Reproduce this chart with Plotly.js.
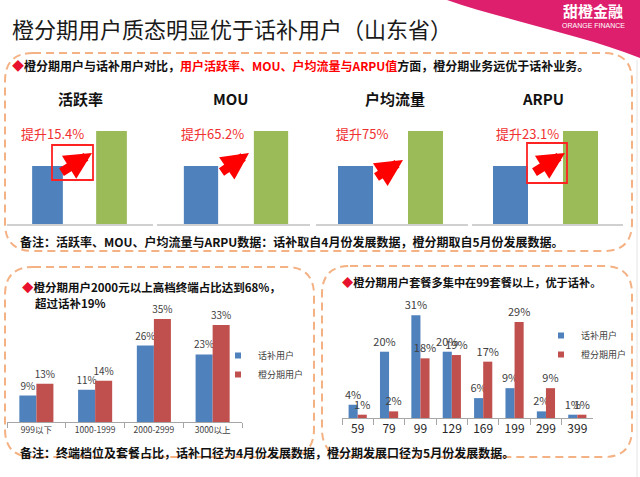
<!DOCTYPE html>
<html>
<head>
<meta charset="utf-8">
<script src="https://cdn.plot.ly/plotly-3.0.1.min.js"></script>
<style>html,body{margin:0;padding:0;background:#fff;}#chart{width:640px;height:477px;}</style>
</head>
<body>
<div id="chart"></div>
<script>
// ---------------- data ----------------
const topMetrics = ['活跃率', 'MOU', '户均流量', 'ARPU'];
const topLift = ['提升15.4%', '提升65.2%', '提升75%', '提升23.1%'];
const topCats = ['话补用户', '橙分期用户'];
const topHuabu = [58, 58, 58, 58];     // relative bar heights
const topCfq = [93, 93, 93, 93];

const priceCats = ['999以下', '1000-1999', '2000-2999', '3000以上'];
const priceHuabu = [9, 11, 26, 23];
const priceCfq = [13, 14, 35, 33];

const planCats = ['59', '79', '99', '129', '169', '199', '299', '399'];
const planHuabu = [4, 20, 31, 20, 6, 9, 2, 1];
const planCfq = [1, 2, 18, 19, 17, 29, 9, 1];

const seriesNames = ['话补用户', '橙分期用户'];

// ---------------- helpers ----------------
const W = 640, H = 477;
const px = x => x / W;
const py = y => 1 - y / H;
const BLUE = '#4F81BD', GREEN = '#9BBB59', RED = '#C0504D';
const FONT = '"Noto Sans CJK SC", "Noto Sans", sans-serif';

function roundRect(x0, y0, x1, y1, r) {
  const P = (x, y) => px(x).toFixed(5) + ',' + py(y).toFixed(5);
  return 'M' + P(x0 + r, y0) + ' L' + P(x1 - r, y0) + ' Q' + P(x1, y0) + ' ' + P(x1, y0 + r) +
    ' L' + P(x1, y1 - r) + ' Q' + P(x1, y1) + ' ' + P(x1 - r, y1) +
    ' L' + P(x0 + r, y1) + ' Q' + P(x0, y1) + ' ' + P(x0, y1 - r) +
    ' L' + P(x0, y0 + r) + ' Q' + P(x0, y0) + ' ' + P(x0 + r, y0) + ' Z';
}

// ---------------- traces ----------------
const traces = [];
const topLayout = [
  {line: [7, 153], c: 47.5, s: 64, w: 0.48},
  {line: [157, 310], c: 201, s: 70, w: 0.49},
  {line: [316, 468], c: 355.5, s: 70, w: 0.5},
  {line: [472, 623], c: 510.5, s: 70, w: 0.5}
];
topMetrics.forEach((m, i) => {
  const n = i + 1;
  traces.push({
    type: 'bar', x: [0, 1], y: [topHuabu[i], topCfq[i]],
    customdata: topCats, name: m,
    marker: {color: [BLUE, GREEN]}, width: topLayout[i].w,
    xaxis: 'x' + n, yaxis: 'y' + n, showlegend: false, hoverinfo: 'none'
  });
});

traces.push({
  type: 'bar', name: seriesNames[0], x: priceCats, y: priceHuabu,
  marker: {color: BLUE}, xaxis: 'x5', yaxis: 'y5', showlegend: false,
  texttemplate: '%{y}%', textposition: 'outside', cliponaxis: false, constraintext: 'none',
  textfont: {size: 10, color: '#404040'}
});
traces.push({
  type: 'bar', name: seriesNames[1], x: priceCats, y: priceCfq,
  marker: {color: RED}, xaxis: 'x5', yaxis: 'y5', showlegend: false,
  texttemplate: '%{y}%', textposition: 'outside', cliponaxis: false, constraintext: 'none',
  textfont: {size: 10, color: '#404040'}
});
traces.push({
  type: 'bar', name: seriesNames[0], x: planCats, y: planHuabu,
  marker: {color: BLUE}, xaxis: 'x6', yaxis: 'y6', showlegend: false,
  texttemplate: '%{y}%', textposition: 'outside', cliponaxis: false, constraintext: 'none',
  textfont: {size: 11, color: '#404040'}
});
traces.push({
  type: 'bar', name: seriesNames[1], x: planCats, y: planCfq,
  marker: {color: RED}, xaxis: 'x6', yaxis: 'y6', showlegend: false,
  texttemplate: '%{y}%', textposition: 'outside', cliponaxis: false, constraintext: 'none',
  textfont: {size: 11, color: '#404040'}
});
// legend entries (small square glyphs)
[[BLUE, 0], [RED, 1]].forEach(([col, k]) => {
  traces.push({type: 'scatter', mode: 'markers', x: [null], y: [null], name: seriesNames[k],
    marker: {symbol: 'square', size: 6, color: col}, xaxis: 'x5', yaxis: 'y5',
    legend: 'legend', showlegend: true, hoverinfo: 'none'});
});
[[BLUE, 0], [RED, 1]].forEach(([col, k]) => {
  traces.push({type: 'scatter', mode: 'markers', x: [null], y: [null], name: seriesNames[k],
    marker: {symbol: 'square', size: 6, color: col}, xaxis: 'x6', yaxis: 'y6',
    legend: 'legend2', showlegend: true, hoverinfo: 'none'});
});

// ---------------- layout ----------------
const layout = {
  width: W, height: H, margin: {l: 0, r: 0, t: 0, b: 0},
  paper_bgcolor: '#ffffff', plot_bgcolor: 'rgba(0,0,0,0)',
  font: {family: FONT, color: '#222'},
  barmode: 'group', bargap: 0.42, bargroupgap: 0,
  title: {text: '橙分期用户质态明显优于话补用户（山东省）', x: px(12), xanchor: 'left',
    y: py(30), yanchor: 'middle', font: {size: 22, color: '#1a1a1a', family: FONT}},
  legend: {x: px(218), y: py(341), xanchor: 'left', yanchor: 'top', bgcolor: 'rgba(0,0,0,0)',
    font: {size: 9, color: '#404040'}, itemclick: false},
  legend2: {x: px(541), y: py(321), xanchor: 'left', yanchor: 'top', bgcolor: 'rgba(0,0,0,0)',
    font: {size: 9, color: '#404040'}, itemclick: false},
  shapes: [], annotations: [], showlegend: true
};

topLayout.forEach((t, i) => {
  const n = i + 1;
  const xa = {
    domain: [px(t.line[0]), px(t.line[1])],
    range: [-(t.c - t.line[0]) / t.s, (t.line[1] - t.c) / t.s],
    showticklabels: false, showgrid: false, zeroline: false,
    showline: true, linecolor: '#D0D0D0', linewidth: 1.5, ticks: '',
    anchor: 'y' + n, fixedrange: true
  };
  const ya = {
    domain: [py(224), py(124)], range: [0, 100], visible: false,
    showgrid: false, zeroline: false, anchor: 'x' + n, fixedrange: true
  };
  layout['xaxis' + (n === 1 ? '' : n)] = xa;
  layout['yaxis' + (n === 1 ? '' : n)] = ya;
});

layout.xaxis5 = {
  domain: [px(7), px(242)], type: 'category', anchor: 'y5',
  showline: true, linecolor: '#A6A6A6', linewidth: 1, ticks: 'outside', tickson: 'boundaries',
  ticklen: 5, tickcolor: '#A6A6A6', showgrid: false, zeroline: false,
  tickfont: {size: 8.5, color: '#404040'}
};
layout.yaxis5 = {domain: [py(422), py(304.4)], range: [0, 40], visible: false, anchor: 'x5', showgrid: false, zeroline: false};
layout.xaxis6 = {
  domain: [px(342), px(593)], type: 'category', anchor: 'y6',
  showline: true, linecolor: '#A6A6A6', linewidth: 1, ticks: 'outside', tickson: 'boundaries',
  ticklen: 6, tickcolor: '#A6A6A6', showgrid: false, zeroline: false,
  tickfont: {size: 12, color: '#262626'}
};
layout.yaxis6 = {domain: [py(418), py(302)], range: [0, 35], visible: false, anchor: 'x6', showgrid: false, zeroline: false};

// decorative shapes
const dashStyle = {color: '#F4B183', width: 2, dash: '8px,5px'};
layout.shapes.push(
  {type: 'path', xref: 'paper', yref: 'paper', path: 'M' + px(447) + ',' + py(0) +
    ' C' + px(505) + ',' + py(20) + ' ' + px(585) + ',' + py(36) + ' ' + px(640) + ',' + py(58) +
    ' L' + px(640) + ',' + py(0) + ' Z', fillcolor: '#DE1F6E', line: {width: 0}, layer: 'below'},
  {type: 'path', xref: 'paper', yref: 'paper', path: roundRect(5, 53, 632, 251, 28), line: dashStyle, layer: 'below'},
  {type: 'path', xref: 'paper', yref: 'paper', path: roundRect(5, 267, 314, 457, 28), line: dashStyle, layer: 'below'},
  {type: 'path', xref: 'paper', yref: 'paper', path: roundRect(322, 266, 632, 457, 28), line: dashStyle, layer: 'below'},
  {type: 'line', xref: 'paper', yref: 'paper', x0: px(637), x1: px(637), y0: py(60), y1: py(477), line: {color: '#E4E4E4', width: 1}, layer: 'below'},
  {type: 'rect', xref: 'paper', yref: 'paper', x0: px(52), x1: px(93), y0: py(145), y1: py(180), line: {color: '#F22', width: 1.8}},
  {type: 'rect', xref: 'paper', yref: 'paper', x0: px(527), x1: px(567), y0: py(143), y1: py(183), line: {color: '#F22', width: 1.8}}
);

const A = layout.annotations;
function txt(text, x, y, size, opts) {
  A.push(Object.assign({text: text, xref: 'paper', yref: 'paper', x: px(x), y: py(y),
    xanchor: 'left', yanchor: 'middle', showarrow: false, font: {size: size, color: '#111', family: FONT}}, opts || {}));
}
// logo
txt('<b>甜橙金融</b>', 593, 11, 15, {xanchor: 'center', font: {size: 15, color: '#fff', family: FONT}});
txt('ORANGE FINANCE', 593, 26, 7, {xanchor: 'center', font: {size: 7, color: '#fff', family: '"Liberation Sans", Arial, sans-serif'}});
// top subtitle
txt('<b><span style="color:#E8112D">◆</span>橙分期用户与话补用户对比，<span style="color:#FF0000">用户活跃率、MOU、户均流量与ARPU值</span>方面，橙分期业务远优于话补业务。</b>', 10, 66, 12);
// metric titles and lift labels
const titleX = [80, 231, 395, 543];
const liftX = [19, 179, 334, 494];
topMetrics.forEach((m, i) => {
  txt('<b>' + m + '</b>', titleX[i], 98, 15, {xanchor: 'center', font: {size: 15, color: '#111', family: FONT}});
  txt(topLift[i], liftX[i], 133, 13, {font: {size: 13, color: '#F03030', family: FONT}});
});
// arrows
const arrows = [[92, 153, -32, 20], [249, 153, -29, 20], [403, 160, -28, 18], [565, 153, -32, 20]];
arrows.forEach(a => {
  A.push({text: '', xref: 'paper', yref: 'paper', x: px(a[0]), y: py(a[1]), ax: a[2], ay: a[3],
    showarrow: true, arrowcolor: '#FF0000', arrowwidth: 9, arrowhead: 2, arrowsize: 0.6, standoff: 0, startstandoff: 0});
});
// notes and subtitles
txt('<b>备注：活跃率、MOU、户均流量与ARPU数据：话补取自4月份发展数据，橙分期取自5月份发展数据。</b>', 18, 241, 12);
txt('<b><span style="color:#E8112D">◆</span>橙分期用户2000元以上高档终端占比达到68%，</b>', 20, 287, 11.5);
txt('<b>超过话补19%</b>', 33, 303, 11.5);
txt('<b><span style="color:#E8112D">◆</span>橙分期用户套餐多集中在99套餐以上，优于话补。</b>', 340, 282, 11.2);
txt('<b>备注：终端档位及套餐占比，话补口径为4月份发展数据，橙分期发展口径为5月份发展数据。</b>', 18, 452, 12);

Plotly.newPlot('chart', traces, layout, {displayModeBar: false, staticPlot: true});
</script>
</body>
</html>
